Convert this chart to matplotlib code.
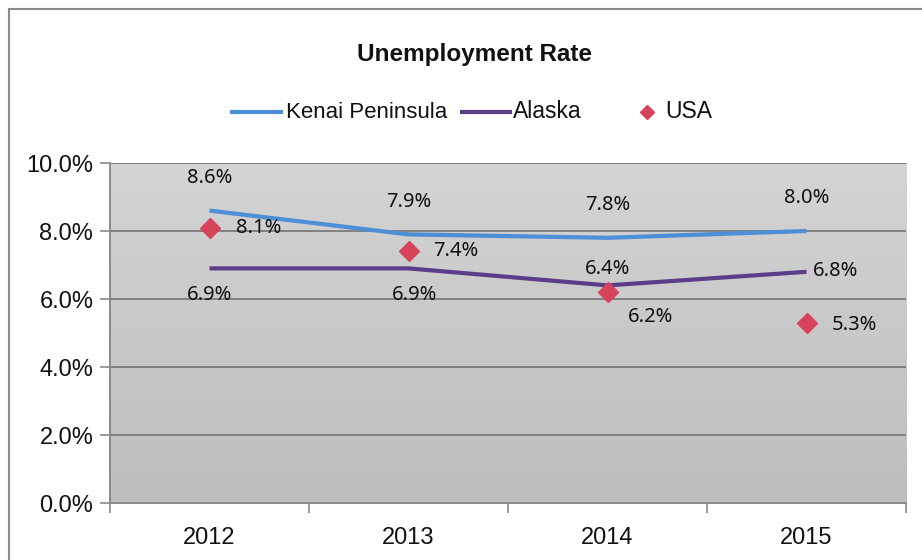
import numpy as np
import matplotlib
matplotlib.use("Agg")
import matplotlib.pyplot as plt
from matplotlib.lines import Line2D
from matplotlib.patches import Rectangle
from matplotlib.ticker import FuncFormatter

# --- data ---
years = ["2012", "2013", "2014", "2015"]
kenai = [8.6, 7.9, 7.8, 8.0]
alaska = [6.9, 6.9, 6.4, 6.8]
usa = [8.1, 7.4, 6.2, 5.3]
y_ticks = [0, 2, 4, 6, 8, 10]

# label placement (pixel offsets, alignment) per point
kenai_off = [((0, 33), "center"), ((0, 32), "center"), ((0, 33), "center"), ((0, 33), "center")]
alaska_off = [((0, -27), "center"), ((6, -27), "center"), ((0, 16), "center"), ((6, 1), "left")]
usa_off = [((26, 0), "left"), ((25, 0), "left"), ((20, -25), "left"), ((25, -2), "left")]

SANS = ["Liberation Sans", "DejaVu Sans"]
LABEL_FONT = ["Noto Sans", "DejaVu Sans"]
KENAI_C = "#4c8fd6"
ALASKA_C = "#5c3d8a"
USA_C = "#d8435c"
TEXT_C = "#111111"

W, H = 922, 560
fig = plt.figure(figsize=(W / 100, H / 100), dpi=100, facecolor="white")


def fx(px):
    return px / W


def fy(py):
    return 1 - py / H


# outer chart frame
fig.patches.append(Rectangle((fx(9), -0.1), 1.2, fy(9) + 0.1, transform=fig.transFigure,
                             fill=False, edgecolor="#8a8a8a", linewidth=1.5))

left, right, top, bottom = 110, 906, 163, 503
ax = fig.add_axes([fx(left), fy(bottom), (right - left) / W, (bottom - top) / H])

x = np.arange(len(years))
ax.set_xlim(-0.5, len(years) - 0.5)
ax.set_ylim(0, 10)

# plot-area gradient fill
grad = np.linspace(0, 1, 256).reshape(-1, 1)
cmap = matplotlib.colors.LinearSegmentedColormap.from_list("bg", ["#bdbdbd", "#d4d4d4"])
ax.imshow(grad, extent=[-0.5, len(years) - 0.5, 0, 10], origin="lower", aspect="auto",
          cmap=cmap, zorder=0)

for t in y_ticks[1:]:
    ax.axhline(t, color="#808080", linewidth=1.4, zorder=1)

ax.plot(x, kenai, color=KENAI_C, linewidth=3, solid_capstyle="butt", zorder=3)
ax.plot(x, alaska, color=ALASKA_C, linewidth=3, solid_capstyle="butt", zorder=3)
ax.plot(x, usa, linestyle="none", marker="D", markersize=10, color=USA_C,
        markeredgecolor=USA_C, zorder=4)


def put_labels(vals, offsets):
    for xi, v, ((dx, dy), ha) in zip(x, vals, offsets):
        ax.annotate(f"{v:.1f}%", (xi, v), xytext=(dx, dy), textcoords="offset pixels",
                    ha=ha, va="center", fontsize=14.5, family=LABEL_FONT,
                    color=TEXT_C, zorder=5)


put_labels(kenai, kenai_off)
put_labels(alaska, alaska_off)
put_labels(usa, usa_off)

# axes styling
for s in ["top", "right"]:
    ax.spines[s].set_visible(False)
for s in ["left", "bottom"]:
    ax.spines[s].set_color("#8a8a8a")
    ax.spines[s].set_linewidth(1.4)

ax.set_yticks(y_ticks)
ax.yaxis.set_major_formatter(FuncFormatter(lambda v, _: f"{v:.1f}%"))
ax.tick_params(axis="y", length=7, width=1.2, color="#8a8a8a", pad=5)
for lab in ax.get_yticklabels():
    lab.set_family(SANS)
    lab.set_fontsize(17)
    lab.set_color(TEXT_C)

ax.set_xticks(x)
ax.set_xticklabels(years, family=SANS, fontsize=17, color=TEXT_C)
ax.set_xticks(np.arange(-0.5, len(years)), minor=True)
ax.tick_params(axis="x", which="major", length=0, pad=17)
ax.tick_params(axis="x", which="minor", length=7, width=1.2, color="#8a8a8a")

fig.text(fx(474), fy(54), "Unemployment Rate", ha="center", va="center",
         fontsize=17.5, fontweight="bold", family=SANS, color=TEXT_C)

# legend row
ly = fy(112)
fig.add_artist(Line2D([fx(230), fx(283)], [ly, ly], color=KENAI_C, linewidth=3,
                      solid_capstyle="butt"))
fig.text(fx(286), ly, "Kenai Peninsula", ha="left", va="center", fontsize=16,
         family=SANS, color=TEXT_C)
fig.add_artist(Line2D([fx(460), fx(512)], [ly, ly], color=ALASKA_C, linewidth=3,
                      solid_capstyle="butt"))
fig.text(fx(513), ly, "Alaska", ha="left", va="center", fontsize=16.5,
         family=SANS, color=TEXT_C)
fig.add_artist(Line2D([fx(647)], [ly], linestyle="none", marker="D", markersize=7,
                      color=USA_C))
fig.text(fx(665), ly, "USA", ha="left", va="center", fontsize=16.5,
         family=SANS, color=TEXT_C)

fig.savefig("out.png", dpi=100, facecolor="white")
